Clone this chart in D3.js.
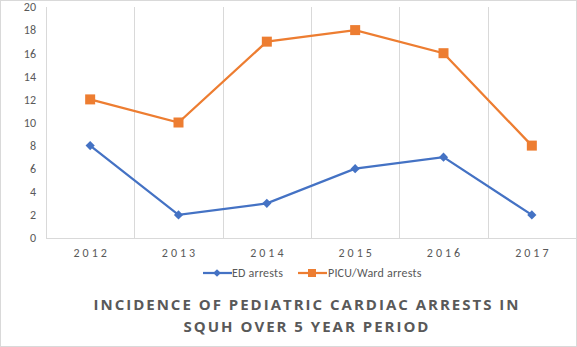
<!DOCTYPE html>
<html><head><meta charset="utf-8">
<script src="https://cdn.jsdelivr.net/npm/d3@7"></script>
<style>body{margin:0;background:#fff;}svg{display:block;}</style>
</head><body>
<script>
const years = ["2012","2013","2014","2015","2016","2017"];
const edArrests = [8,2,3,6,7,2];
const wardArrests = [12,10,17,18,16,8];
const yTicks = [0,2,4,6,8,10,12,14,16,18,20];
const seriesNames = ["ED arrests","PICU/Ward arrests"];
const titleLines = ["INCIDENCE OF PEDIATRIC CARDIAC ARRESTS IN","SQUH OVER 5 YEAR PERIOD"];

const W=577,H=347;
const svg=d3.select("body").append("svg").attr("width",W).attr("height",H);
svg.append("rect").attr("x",0.5).attr("y",0.5).attr("width",W-1).attr("height",H-1).attr("fill","#fff").attr("stroke","#d9d9d9");

const x=d3.scaleBand().domain(years).range([46,576]);
const y=d3.scaleLinear().domain([0,20]).range([238,7]);
const grid="#d9d9d9", txt="#595959";
const font="Carlito, Calibri, 'Open Sans', sans-serif";

const bounds=years.map(d=>x(d)).concat([x.range()[1]]);
svg.append("g").selectAll("line").data(bounds).join("line")
  .attr("x1",d=>Math.round(d)+0.5).attr("x2",d=>Math.round(d)+0.5)
  .attr("y1",y(20)).attr("y2",y(0)).attr("stroke",grid);
svg.append("line").attr("x1",46).attr("x2",576).attr("y1",y(0)+0.5).attr("y2",y(0)+0.5).attr("stroke",grid);

const yAxis=d3.axisLeft(y).tickValues(yTicks).tickSize(0).tickPadding(0);
const gy=svg.append("g").attr("transform","translate(36,0)").call(yAxis);
gy.select(".domain").remove();
gy.selectAll("text").attr("fill",txt).attr("font-size","12px").attr("font-family",font);

const xAxis=d3.axisBottom(x).tickSize(0).tickPadding(0);
const gx=svg.append("g").attr("transform","translate(1.5,248)").call(xAxis);
gx.select(".domain").remove();
gx.selectAll("text").attr("fill",txt).attr("font-size","12px").attr("font-family",font).attr("letter-spacing","3px").attr("dy","0.71em");

const cx=d=>x(d)+x.bandwidth()/2;
const line=d3.line().x((d,i)=>cx(years[i])).y(d=>y(d));

svg.append("path").datum(edArrests).attr("d",line).attr("fill","none").attr("stroke","#4472c4").attr("stroke-width",2.25);
svg.append("path").datum(wardArrests).attr("d",line).attr("fill","none").attr("stroke","#ed7d31").attr("stroke-width",2.25);

svg.append("g").selectAll("path").data(edArrests).join("path")
  .attr("transform",(d,i)=>`translate(${cx(years[i])},${y(d)}) rotate(45)`)
  .attr("d",d3.symbol().type(d3.symbolSquare).size(42)).attr("fill","#4472c4");
svg.append("g").selectAll("rect").data(wardArrests).join("rect")
  .attr("x",(d,i)=>cx(years[i])-5).attr("y",d=>y(d)-5).attr("width",10).attr("height",10).attr("fill","#ed7d31");

const lg=svg.append("g");
lg.append("line").attr("x1",203).attr("x2",232).attr("y1",273).attr("y2",273).attr("stroke","#4472c4").attr("stroke-width",2.25);
lg.append("path").attr("transform","translate(217,273) rotate(45)").attr("d",d3.symbol().type(d3.symbolSquare).size(30)).attr("fill","#4472c4");
lg.append("text").attr("x",232).attr("y",277).text(seriesNames[0]).attr("fill",txt).attr("font-size","12px").attr("font-family",font).attr("letter-spacing","0.2px");
lg.append("line").attr("x1",298).attr("x2",327).attr("y1",273).attr("y2",273).attr("stroke","#ed7d31").attr("stroke-width",2.25);
lg.append("rect").attr("x",308).attr("y",269).attr("width",8).attr("height",8).attr("fill","#ed7d31");
lg.append("text").attr("x",328).attr("y",277).text(seriesNames[1]).attr("fill",txt).attr("font-size","12px").attr("font-family",font).attr("letter-spacing","0.2px");

svg.append("g").selectAll("text").data(titleLines).join("text")
  .attr("x",307).attr("y",(d,i)=>310+i*22).attr("text-anchor","middle")
  .attr("fill",txt).attr("font-size","15px").attr("font-weight","bold")
  .attr("font-family","'Open Sans', sans-serif").attr("letter-spacing","2px").text(d=>d);
</script>
</body></html>
